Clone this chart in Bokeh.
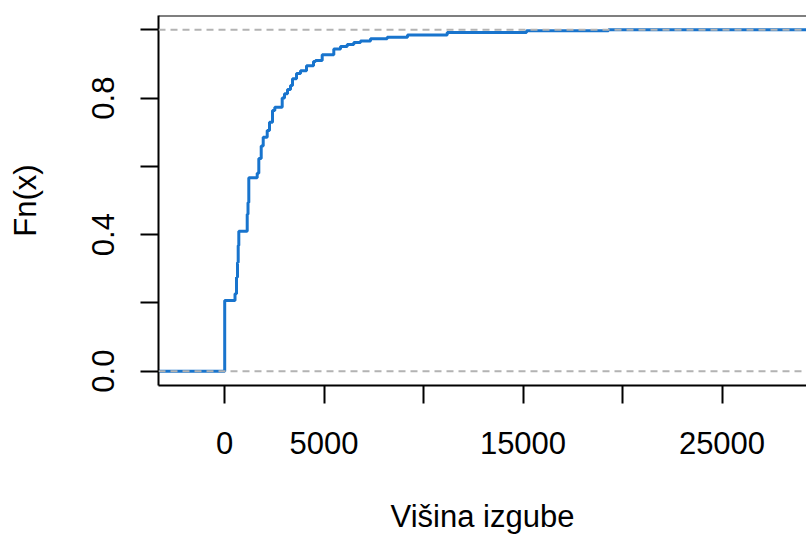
from bokeh.plotting import figure
from bokeh.models import Span, FixedTicker, Range1d
from bokeh.embed import file_html
from bokeh.resources import INLINE

# ECDF of loss amounts: knot positions and Fn(x) just after each knot
knots = [10, 528, 603, 653, 688, 719, 1141, 1181, 1221, 1643, 1724, 1844, 1945,
         2146, 2261, 2412, 2528, 2899, 3015, 3166, 3317, 3417, 3618, 3819, 4121,
         4472, 4573, 4909, 5492, 5829, 6166, 6497, 6834, 7337, 8176, 9196, 11191,
         15176, 19296]
fn = [0.207, 0.227, 0.275, 0.318, 0.368, 0.41, 0.46, 0.494, 0.567, 0.58, 0.623,
      0.66, 0.685, 0.705, 0.729, 0.764, 0.773, 0.80, 0.813, 0.825, 0.837, 0.857,
      0.872, 0.88, 0.895, 0.907, 0.91, 0.927, 0.944, 0.951, 0.957, 0.963, 0.967,
      0.974, 0.978, 0.985, 0.992, 0.997, 1.0]

x_ticks = [0, 5000, 10000, 15000, 20000, 25000]
x_tick_labels = ["0", "5000", "", "15000", "", "25000"]
y_ticks = [0, 0.2, 0.4, 0.6, 0.8, 1.0]
y_tick_labels = ["0.0", "", "0.4", "", "0.8", ""]
x_title = "Višina izgube"
y_title = "Fn(x)"

x_lo, x_hi = -3317, 29246
y_lo, y_hi = -0.042, 1.042

FONT = "Liberation Sans"
FS = "31px"

p = figure(width=806, height=536, x_range=Range1d(x_lo, x_hi), y_range=Range1d(y_lo, y_hi),
           output_backend="svg", toolbar_location=None,
           min_border_left=158, min_border_right=0, min_border_top=15, min_border_bottom=151,
           x_axis_label=x_title, y_axis_label=y_title)
p.xgrid.visible = False
p.ygrid.visible = False
p.outline_line_color = None
p.background_fill_color = "white"
p.border_fill_color = "white"

xs = [x_lo] + knots + [x_hi]
ys = [0] + fn + [fn[-1]]
p.step(xs, ys, mode="after", line_color="#1874CD", line_width=3)

for loc in (0, 1):
    p.add_layout(Span(location=loc, dimension="width", line_color="#B3B3B3",
                      line_dash="7 5", line_width=2))
p.add_layout(Span(location=y_hi, dimension="width", line_color="black", line_width=2))

p.xaxis.ticker = FixedTicker(ticks=x_ticks)
p.xaxis.major_label_overrides = dict(zip(x_ticks, x_tick_labels))
p.yaxis.ticker = FixedTicker(ticks=y_ticks)
p.yaxis.major_label_overrides = dict(zip(y_ticks, y_tick_labels))
p.yaxis.major_label_orientation = "vertical"

for ax in (p.xaxis[0], p.yaxis[0]):
    ax.axis_line_width = 2
    ax.axis_line_color = "black"
    ax.major_tick_line_width = 2
    ax.major_tick_line_color = "black"
    ax.major_tick_out = 18
    ax.major_tick_in = 0
    ax.minor_tick_line_color = None
    ax.major_label_text_font = FONT
    ax.major_label_text_font_size = FS
    ax.major_label_text_color = "black"
    ax.axis_label_text_font = FONT
    ax.axis_label_text_font_size = FS
    ax.axis_label_text_font_style = "normal"
    ax.axis_label_text_color = "black"

p.xaxis.major_label_standoff = 28
p.xaxis.axis_label_standoff = 42
p.yaxis.major_label_standoff = 26
p.yaxis.axis_label_standoff = 47

open("out.html", "w").write(file_html(p, INLINE))
